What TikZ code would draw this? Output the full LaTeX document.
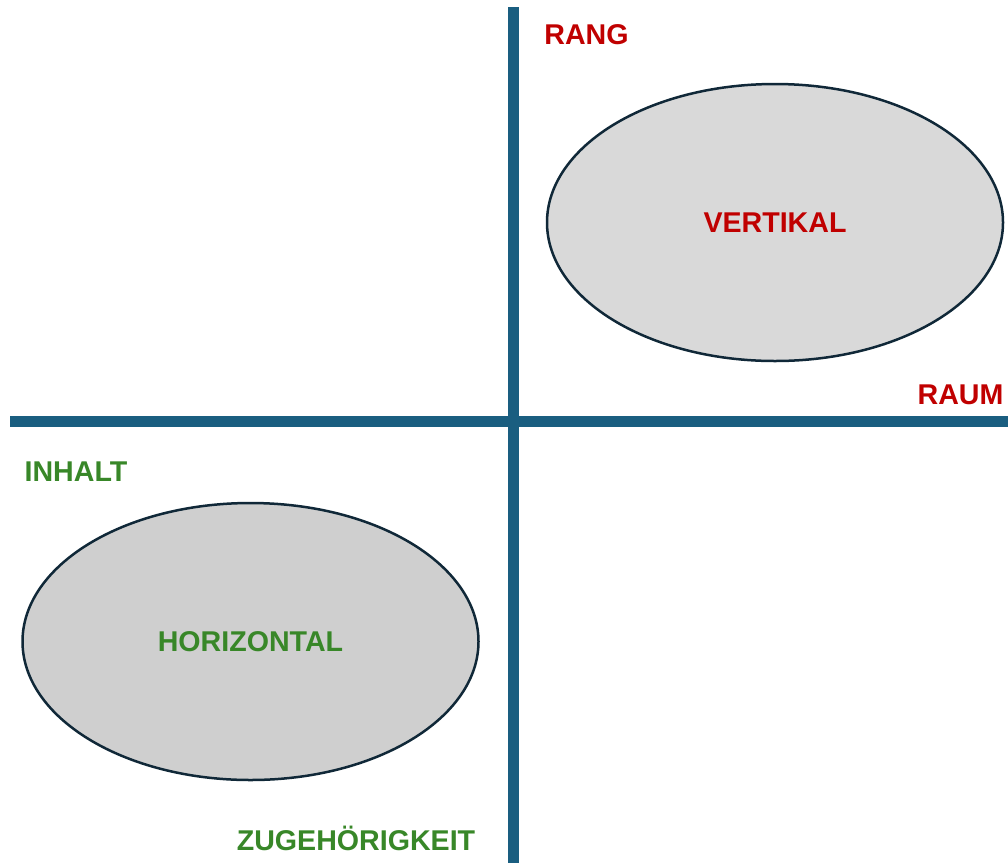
\documentclass[tikz,border=0pt]{standalone}
\usepackage{fontspec}
\setmainfont{Liberation Sans}
\usetikzlibrary{shapes.geometric}
\definecolor{axisblue}{RGB}{26,94,128}
\definecolor{edgenavy}{RGB}{16,40,56}
\definecolor{lblred}{RGB}{192,0,0}
\definecolor{lblgreen}{RGB}{56,135,40}
\definecolor{fillA}{RGB}{217,217,217}
\definecolor{fillB}{RGB}{207,207,207}
\begin{document}
\begin{tikzpicture}[x=1pt,y=-1pt,
  axisline/.style={draw=axisblue,line width=11pt},
  blob/.style={ellipse,draw=edgenavy,line width=2.5pt,minimum width=456pt,minimum height=277pt,inner sep=0pt,font=\fontsize{28.6}{30}\selectfont\bfseries},
  lbl/.style={anchor=base,inner sep=0pt,font=\fontsize{28.6}{30}\selectfont\bfseries}]
\useasboundingbox (0,0) rectangle (1008,863);
\coordinate (vtop) at (513.5,7);
\coordinate (vbot) at (513.5,863);
\coordinate (hleft) at (10,421);
\coordinate (hright) at (1008,421);
\draw[axisline] (vtop) -- (vbot);
\draw[axisline] (hleft) -- (hright);
\node[blob,fill=fillA,text=lblred] (vert) at (775,222.5) {VERTIKAL};
\node[blob,fill=fillB,text=lblgreen] (horiz) at (250.5,641.5) {HORIZONTAL};
\node[lbl,text=lblred] (rang) at (586.5,44) {RANG};
\node[lbl,text=lblred] (raum) at (960.5,404) {RAUM};
\node[lbl,text=lblgreen] (inhalt) at (76,481) {INHALT};
\node[lbl,text=lblgreen] (zuge) at (356,850) {ZUGEHÖRIGKEIT};
\end{tikzpicture}
\end{document}
